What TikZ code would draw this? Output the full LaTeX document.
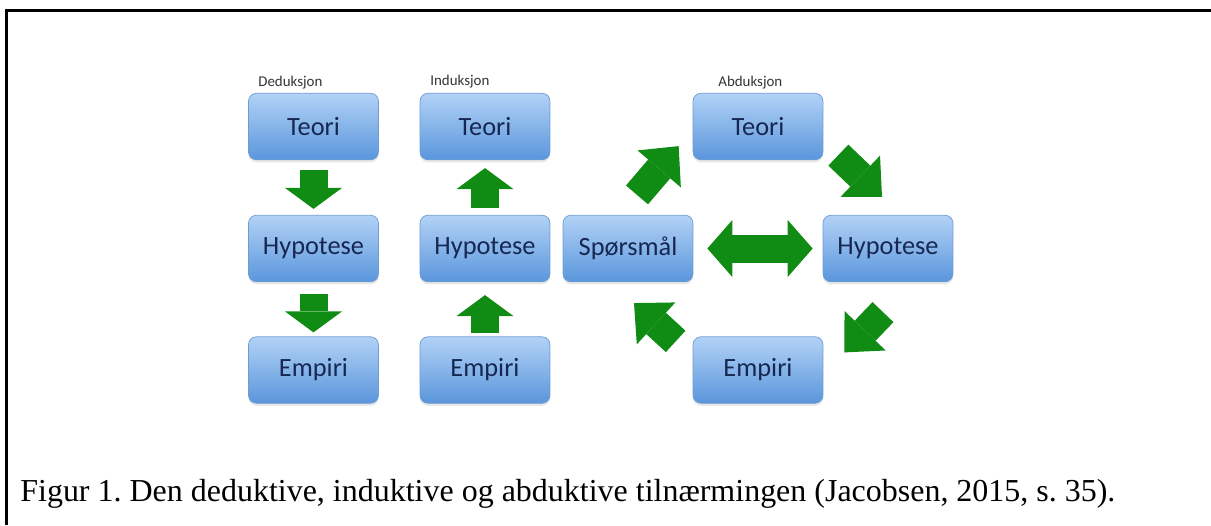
\documentclass[tikz,border=0pt]{standalone}
\usepackage{fontspec}
\setmainfont{Liberation Serif}
\newfontfamily\boxfont{Carlito}
\usetikzlibrary{arrows.meta,shadows}

\definecolor{arrowgreen}{RGB}{16,140,20}
\definecolor{boxtop}{RGB}{178,210,246}
\definecolor{boxbottom}{RGB}{90,150,220}
\definecolor{boxedge}{RGB}{110,155,210}
\definecolor{boxtext}{RGB}{22,40,82}

\begin{document}
\frenchspacing
\begin{tikzpicture}[x=0.02cm, y=-0.02cm]
	\tikzstyle{box} = [
		rectangle, rounded corners=0.16cm, draw=boxedge, line width=0.4pt,
		top color=boxtop, bottom color=boxbottom,
		drop shadow={opacity=0.18, shadow xshift=0pt, shadow yshift=-1.5pt},
		minimum width=2.6cm, minimum height=1.33cm,
		font=\boxfont\fontsize{15}{18}\selectfont, text=boxtext
	]
	\tikzstyle{head} = [
		anchor=west, inner sep=0pt, font=\boxfont\fontsize{8.5}{10}\selectfont, text=black!80
	]
	\tikzstyle{blk} = [
		draw=arrowgreen, line width=0.56cm,
		-{Triangle[length=0.42cm, width=1.14cm, line width=0pt]}
	]
	\tikzstyle{blkdiag} = [
		draw=arrowgreen, line width=0.58cm,
		-{Triangle[length=0.6cm, width=1.14cm, line width=0pt]}
	]
	\tikzstyle{blkboth} = [
		draw=arrowgreen, line width=0.56cm,
		{Triangle[length=0.5cm, width=1.14cm, line width=0pt]}-{Triangle[length=0.5cm, width=1.14cm, line width=0pt]}
	]

	\useasboundingbox (0,0) rectangle (1211,525);
	% Frame
	\draw[line width=0.06cm] (6.5,525) -- (6.5,10.5) -- (1211,10.5);

	% Deduksjon
	\node[head] (hdD) at (258,83) {Deduksjon};
	\node[box] (teoriD) at (313.5,126.5) {Teori};
	\node[box] (hypD) at (313.5,248.5) {Hypotese};
	\node[box] (empD) at (313.5,370) {Empiri};

	% Induksjon
	\node[head] (hdI) at (430,82) {Induksjon};
	\node[box] (teoriI) at (485,126.5) {Teori};
	\node[box] (hypI) at (485,248.5) {Hypotese};
	\node[box] (empI) at (485,370) {Empiri};

	% Abduksjon
	\node[head] (hdA) at (718,83) {Abduksjon};
	\node[box] (teoriA) at (758,126.5) {Teori};
	\node[box] (spm) at (628,248.5) {Spørsmål};
	\node[box] (hypA) at (888,248.5) {Hypotese};
	\node[box] (empA) at (758,370) {Empiri};

	% Deduksjon: ned
	\draw[blk, shorten <=0.2cm, shorten >=0.12cm] (teoriD) -- (hypD);
	\draw[blk, shorten <=0.24cm, shorten >=0.08cm] (hypD) -- (empD);
	% Induksjon: opp
	\draw[blk, shorten <=0.14cm, shorten >=0.16cm] (hypI) -- (teoriI);
	\draw[blk, shorten <=0.06cm, shorten >=0.26cm] (empI) -- (hypI);
	% Abduksjon: rundt
	\draw[blkdiag] ([shift={(9,-20)}]spm.north) -- ([shift={(-14,-14)}]teoriA.south west);
	\draw[blkdiag] ([shift={(15,-5)}]teoriA.south east) -- ([shift={(-6,-18)}]hypA.north);
	\draw[blkdiag] ([shift={(-5,30)}]hypA.south) -- ([shift={(21,16)}]empA.north east);
	\draw[blkdiag] ([shift={(-17,5)}]empA.north west) -- ([shift={(6,21)}]spm.south);
	\draw[blkboth, shorten <=0.28cm, shorten >=0.2cm] (spm) -- (hypA);

	% Caption
	\node[anchor=base west, inner sep=0pt, font=\fontsize{18.2}{22}\selectfont] (cap) at (20,501)
		{Figur 1. Den deduktive, induktive og abduktive tilnærmingen (Jacobsen, 2015, s. 35).};
\end{tikzpicture}
\end{document}
